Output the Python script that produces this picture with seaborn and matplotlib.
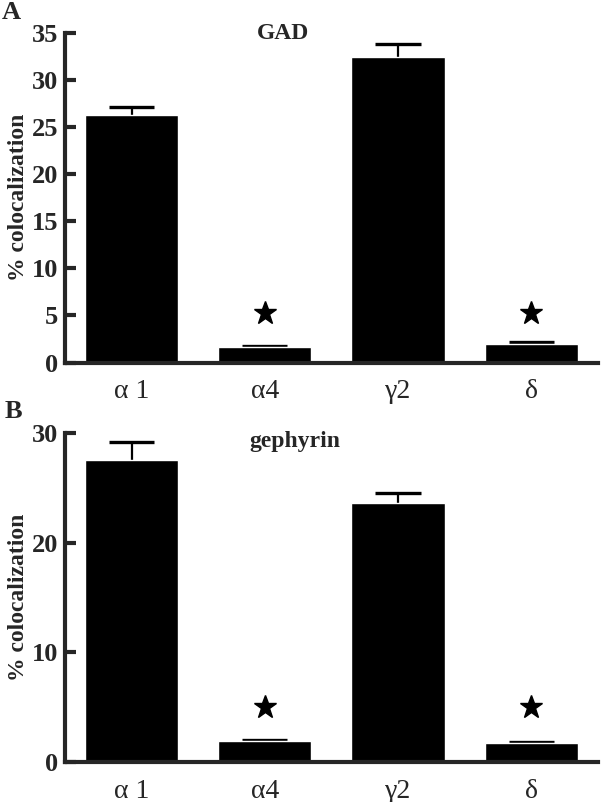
import matplotlib
matplotlib.use('Agg')
import matplotlib.pyplot as plt
import seaborn as sns
import numpy as np
import pandas as pd

subunits = ['α 1', 'α4', 'γ2', 'δ']

# panel A - GAD
gad_mean = [26.3, 1.6, 32.4, 2.0]
gad_err = [0.8, 0.1, 1.4, 0.15]
gad_star_idx = [1, 3]
gad_star_y = [5.3, 5.3]

# panel B - gephyrin
geph_mean = [27.5, 1.9, 23.6, 1.75]
geph_err = [1.7, 0.1, 0.9, 0.05]
geph_star_idx = [1, 3]
geph_star_y = [5.0, 5.0]

sns.set_style("ticks")
plt.rcParams['font.family'] = ['Liberation Serif', 'DejaVu Serif']

fig = plt.figure(figsize=(6.02, 8.02), dpi=100)
axA = fig.add_axes([0.108, 0.548, 0.885, 0.411])
axB = fig.add_axes([0.108, 0.050, 0.885, 0.410])


def draw_panel(ax, means, errs, star_idx, star_y, ymax, yticks):
    df = pd.DataFrame({'subunit': subunits, 'value': means})
    sns.barplot(data=df, x='subunit', y='value', color='black', width=0.7,
                saturation=1, ax=ax, zorder=2)
    # upper error bar only: stem + cap
    x = np.arange(len(means))
    tops = np.array(means) + np.array(errs)
    ax.vlines(x, means, tops, color='black', linewidth=1.6, zorder=1)
    ax.hlines(tops, x - 0.17, x + 0.17, color='black', linewidth=2.4, zorder=1)
    ax.plot(star_idx, star_y, linestyle='none', marker='*', color='black',
            markersize=17, zorder=3)
    ax.set_xlim(-0.5, 3.5)
    ax.set_ylim(0, ymax)
    ax.set_yticks(yticks)
    ax.set_xlabel('')
    ax.set_ylabel('% colocalization', fontsize=17, fontweight='bold', labelpad=2)
    sns.despine(ax=ax)
    ax.spines['left'].set_linewidth(3)
    ax.spines['bottom'].set_linewidth(3)
    ax.tick_params(axis='y', direction='in', length=8, width=3,
                   labelsize=19, pad=5)
    ax.tick_params(axis='x', length=0, labelsize=20, pad=12)
    for lab in ax.get_yticklabels():
        lab.set_fontweight('bold')


draw_panel(axA, gad_mean, gad_err, gad_star_idx, gad_star_y, 35,
           [0, 5, 10, 15, 20, 25, 30, 35])
draw_panel(axB, geph_mean, geph_err, geph_star_idx, geph_star_y, 30,
           [0, 10, 20, 30])

fig.text(0.47, 0.958, 'GAD', fontsize=17, fontweight='bold', ha='center', va='center')
fig.text(0.49, 0.449, 'gephyrin', fontsize=17, fontweight='bold', ha='center', va='center')
fig.text(0.018, 0.984, 'A', fontsize=19, fontweight='bold', ha='center', va='center')
fig.text(0.022, 0.487, 'B', fontsize=19, fontweight='bold', ha='center', va='center')

fig.savefig('out.png', dpi=100)
